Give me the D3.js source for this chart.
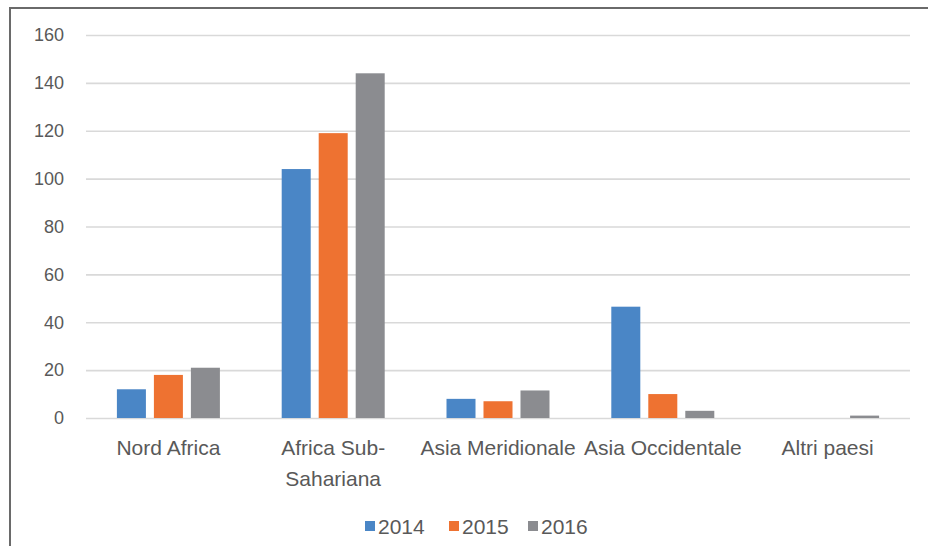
<!DOCTYPE html>
<html>
<head>
<meta charset="utf-8">
<script src="https://cdn.jsdelivr.net/npm/d3@7"></script>
<style>
  html, body { margin: 0; padding: 0; background: #fff; }
  svg { display: block; }
  text { font-family: "Liberation Sans", Arial, sans-serif; fill: #595959; }
</style>
</head>
<body>
<svg id="chart" width="928" height="546"></svg>
<script>
const categories = ["Nord Africa", "Africa Sub-Sahariana", "Asia Meridionale", "Asia Occidentale", "Altri paesi"];
const categoryLines = [["Nord Africa"], ["Africa Sub-", "Sahariana"], ["Asia Meridionale"], ["Asia Occidentale"], ["Altri paesi"]];
const seriesNames = ["2014", "2015", "2016"];
const values2014 = [12, 104, 8, 46.5, 0];
const values2015 = [18, 119, 7, 10, 0];
const values2016 = [21, 144, 11.5, 3, 1];
const yTicks = [0, 20, 40, 60, 80, 100, 120, 140, 160];
const colors = ["#4a86c6", "#ee7231", "#8b8c90"];

const seriesValues = [values2014, values2015, values2016];
const svg = d3.select("#chart");

// frame
svg.append("path")
  .attr("d", "M10,560 L10,8 L940,8")
  .attr("fill", "none").attr("stroke", "#6a6a6a").attr("stroke-width", 2);

const x0 = 86, x1 = 910, yTop = 35, yBot = 418;
const y = d3.scaleLinear().domain([0, 160]).range([yBot, yTop]);
const x = d3.scaleBand().domain(categories).range([x0, x1]);
const groupW = 103;
const xs = d3.scaleBand().domain(seriesNames).range([0, groupW]).paddingInner(0.216);

// gridlines
const yAxis = d3.axisLeft(y).tickValues(yTicks).tickSize(-(x1 - x0)).tickPadding(22);
const gy = svg.append("g").attr("transform", `translate(${x0},0)`).call(yAxis);
gy.select(".domain").remove();
gy.selectAll(".tick line").attr("stroke", "#d9d9d9").attr("stroke-width", 1.6);
gy.selectAll(".tick text").attr("font-size", 18).attr("fill", "#595959")
  .attr("font-family", "Liberation Sans, Arial, sans-serif");

// bars
seriesNames.forEach((s, i) => {
  svg.append("g").selectAll("rect")
    .data(categories.map((c, j) => ({ c, v: seriesValues[i][j] })))
    .join("rect")
    .attr("x", d => x(d.c) + x.bandwidth() / 2 - groupW / 2 + xs(s))
    .attr("width", xs.bandwidth())
    .attr("y", d => y(d.v))
    .attr("height", d => yBot - y(d.v))
    .attr("fill", colors[i]);
});

// category labels
const gx = svg.append("g");
categories.forEach((c, j) => {
  const t = gx.append("text")
    .attr("x", x(c) + x.bandwidth() / 2)
    .attr("y", 455)
    .attr("text-anchor", "middle")
    .attr("font-size", 21);
  categoryLines[j].forEach((ln, k) => {
    t.append("tspan").attr("x", x(c) + x.bandwidth() / 2).attr("dy", k === 0 ? 0 : 31).text(ln);
  });
});

// legend
const legendX = [365, 449, 528];
const lg = svg.append("g");
seriesNames.forEach((s, i) => {
  lg.append("rect").attr("x", legendX[i]).attr("y", 521).attr("width", 10).attr("height", 10).attr("fill", colors[i]);
  lg.append("text").attr("x", legendX[i] + 13).attr("y", 534).attr("font-size", 21).text(s);
});
</script>
</body>
</html>
